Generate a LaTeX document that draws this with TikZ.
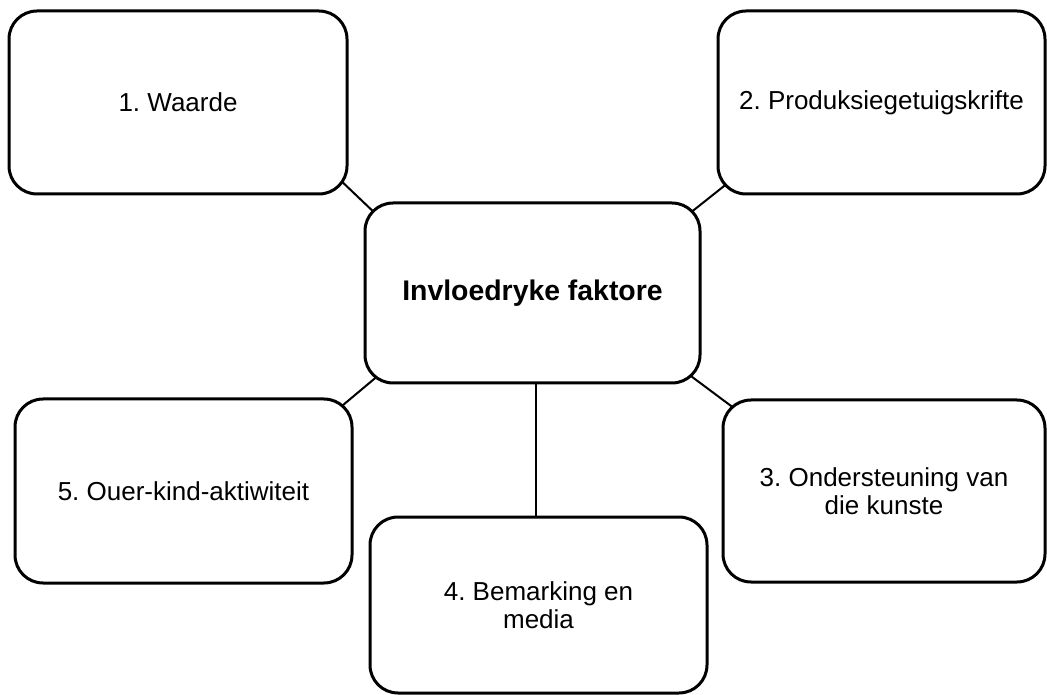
\documentclass[tikz,border=0pt]{standalone}
\usepackage{fontspec}
\setmainfont{Liberation Sans}
\usetikzlibrary{calc,backgrounds}
\frenchspacing
\tikzset{
  box/.style={draw, line width=2.25pt, rounded corners=21pt, fill=white,
    align=center, inner sep=0pt, font=\fontsize{19.5}{21}\selectfont},
  hub/.style={box, font=\fontsize{21.3}{24}\selectfont\bfseries},
  conn/.style={draw, line width=1.5pt}
}
\begin{document}
\begin{tikzpicture}[x=0.75pt,y=-0.75pt]
\useasboundingbox (0,0) rectangle (1047,695);
\node[box, minimum width=253.5pt, minimum height=137.25pt] (b1) at (178,102.5) {1. Waarde};
\node[box, minimum width=245.25pt, minimum height=137.25pt] (b2) at (881.5,102.5) {2. Produksiegetuigskrifte};
\node[hub, minimum width=251.25pt, minimum height=135pt] (c) at (532.5,293) {Invloedryke faktore};
\node[box, minimum width=252.75pt, minimum height=138pt] (b5) at (183.5,491) {5. Ouer-kind-aktiwiteit};
\node[box, minimum width=241.5pt, minimum height=136.5pt] (b3) at (884,491) {3. Ondersteuning van\\die kunste};
\node[box, minimum width=252.75pt, minimum height=132pt] (b4) at (538.5,605) {4. Bemarking en\\media};
\coordinate (v) at ($(c.south)+(3.5,0)$);
\begin{pgfonlayer}{background}
\draw[conn] ($(b1.south east)+(-12,-19)$) -- ($(c.north west)+(15,15)$);
\draw[conn] ($(b2.south west)+(12,-13)$) -- ($(c.north east)+(-12,12)$);
\draw[conn] ($(c.south west)+(16,-10)$) -- ($(b5.north east)+(-17,13)$);
\draw[conn] ($(c.south east)+(-14,-11)$) -- ($(b3.north west)+(17,13)$);
\draw[conn] (v) -- (v |- b4.north);
\end{pgfonlayer}
\end{tikzpicture}
\end{document}
